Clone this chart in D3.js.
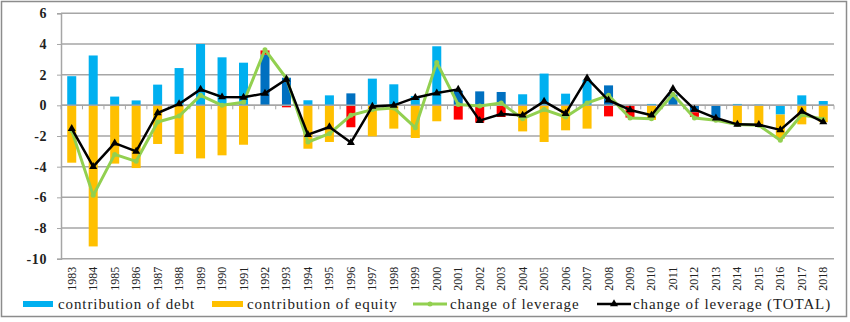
<!DOCTYPE html>
<html>
<head>
<meta charset="utf-8">
<script src="https://cdn.jsdelivr.net/npm/d3@7"></script>
<style>
html,body{margin:0;padding:0;background:#fff;}
svg{display:block;}
</style>
</head>
<body>
<svg id="chart" width="850" height="322"></svg>
<script>
const years = d3.range(1983, 2019).map(String);
const yTicks = [6, 4, 2, 0, -2, -4, -6, -8, -10];

// contribution of debt (light blue)
const debtA = [1.9,3.25,0.57,0.32,1.35,2.43,4.0,3.13,2.78,0,0,0.33,0.65,0,1.74,1.37,0.61,3.85,0,0,0,0.72,2.07,0.76,1.65,0,0,0.09,0,0,0,0.09,0.05,-0.6,0.65,0.28];
// contribution of equity (orange)
const equityA = [-3.74,-9.2,-3.8,-4.09,-2.52,-3.17,-3.46,-3.26,-2.57,0,0,-2.83,-2.39,0,-2.02,-1.52,-2.13,-1.04,0,0,0,-1.7,-2.39,-1.63,-1.52,0,0,-0.95,0,0,0,-1.24,-1.26,-1.57,-1.24,-1.1];
// contribution of debt, highlighted years (dark blue)
const debtB = [0,0,0,0,0,0,0,0,0,3.3,1.8,0,0,0.78,0,0,0,0,0.95,0.91,0.87,0,0,0,0,1.3,0,0,0.7,-0.45,-0.85,0,0,0,0,0];
// contribution of equity, highlighted years (red)
const equityB = [0,0,0,0,0,0,0,0,0,0.28,-0.13,0,0,-1.43,0,0,0,0,-0.93,-1.13,-0.76,0,0,0,0,-0.72,-0.8,0,0,-0.3,-0.12,0,0,0,0,0];
// change of leverage (green)
const changeLev = [-1.65,-5.87,-3.2,-3.65,-1.09,-0.7,0.65,0.0,0.2,3.63,1.75,-2.39,-1.85,-0.65,-0.28,-0.17,-1.46,2.8,0.05,-0.05,0.15,-0.87,-0.28,-0.76,0.15,0.65,-0.83,-0.87,0.72,-0.83,-0.98,-1.25,-1.3,-2.28,-0.62,-0.9];
// change of leverage (TOTAL) (black)
const changeLevTotal = [-1.52,-4.0,-2.46,-3.0,-0.5,0.09,1.04,0.54,0.52,0.78,1.7,-1.91,-1.41,-2.43,-0.07,0.0,0.5,0.8,1.04,-1.0,-0.57,-0.65,0.26,-0.54,1.78,0.33,-0.3,-0.65,1.09,-0.26,-0.83,-1.24,-1.26,-1.6,-0.39,-1.09];

const barKeys = ["debtA","equityA","debtB","equityB"];
const barColors = {debtA:"#00B0F0", equityA:"#FFC000", debtB:"#0070C0", equityB:"#FF0000"};
const table = years.map((yr,i)=>({year:yr, debtA:debtA[i], equityA:equityA[i], debtB:debtB[i], equityB:equityB[i]}));

(function(){
const FONT = '"Liberation Serif","Times New Roman",serif';
const svg = d3.select("#chart");
const pL = 61, pR = 834, pT = 13.3, pB = 258.7;

// outer border
svg.append("rect").attr("x",1.5).attr("y",1.5).attr("width",845).attr("height",315)
  .attr("fill","#fff").attr("stroke","#8c8c8c").attr("stroke-width",1.5);

const x = d3.scaleBand().domain(years).range([pL, pR]).paddingInner(0.58).paddingOuter(0.29);
const y = d3.scaleLinear().domain([-10, 6]).range([pB, pT]);

// gridlines
svg.append("g").selectAll("line").data(yTicks).join("line")
  .attr("x1", pL).attr("x2", pR)
  .attr("y1", d=>y(d)).attr("y2", d=>y(d))
  .attr("stroke","#a6a6a6").attr("stroke-width",1.5);

// y axis
const yAxis = d3.axisLeft(y).tickValues(yTicks).tickSize(4).tickPadding(10).tickFormat(d=>String(d));
const gy = svg.append("g").attr("transform",`translate(${pL},0)`).call(yAxis);
gy.select(".domain").attr("stroke","#a6a6a6").attr("stroke-width",1.5);
gy.selectAll(".tick line").attr("stroke","#a6a6a6");
gy.selectAll("text").style("font-family",FONT).style("font-size","14px")
  .style("font-weight","bold").attr("fill","#222").style("letter-spacing","0.6px");

// bars (stacked, diverging)
const stack = d3.stack().keys(barKeys).offset(d3.stackOffsetDiverging);
const series = stack(table);
svg.append("g").selectAll("g").data(series).join("g")
  .attr("fill", s=>barColors[s.key])
  .selectAll("rect").data(s=>s).join("rect")
  .attr("x", d=>x(d.data.year))
  .attr("width", x.bandwidth())
  .attr("y", d=>y(Math.max(d[0],d[1])))
  .attr("height", d=>Math.abs(y(d[0])-y(d[1])));

// zero axis with ticks at category boundaries
const step = x.step();
svg.append("line").attr("x1",pL).attr("x2",pR).attr("y1",y(0)).attr("y2",y(0))
  .attr("stroke","#a6a6a6").attr("stroke-width",1.5);
svg.append("g").selectAll("line").data(d3.range(years.length+1)).join("line")
  .attr("x1", i=>pL + i*step).attr("x2", i=>pL + i*step)
  .attr("y1", y(0)).attr("y2", y(0)+4)
  .attr("stroke","#a6a6a6").attr("stroke-width",1);

// year labels at bottom
const cx = d=>x(d)+x.bandwidth()/2;
svg.append("g").selectAll("text").data(years).join("text")
  .attr("transform", d=>`translate(${cx(d)+4},${pB+8}) rotate(-90)`)
  .attr("text-anchor","end")
  .style("font-family",FONT).style("font-size","12px").attr("fill","#222")
  .text(d=>d);

// lines
const line = d3.line().x((d,i)=>cx(years[i])).y(d=>y(d));
svg.append("path").datum(changeLev).attr("d", line)
  .attr("fill","none").attr("stroke","#92D050").attr("stroke-width",3).attr("stroke-linejoin","round");
svg.append("g").selectAll("circle").data(changeLev).join("circle")
  .attr("cx",(d,i)=>cx(years[i])).attr("cy",d=>y(d)).attr("r",2.5).attr("fill","#92D050");

svg.append("path").datum(changeLevTotal).attr("d", line)
  .attr("fill","none").attr("stroke","#000").attr("stroke-width",2.5).attr("stroke-linejoin","round");
const tri = d3.symbol().type(d3.symbolTriangle).size(28);
svg.append("g").selectAll("path").data(changeLevTotal).join("path")
  .attr("transform",(d,i)=>`translate(${cx(years[i])},${y(d)})`)
  .attr("d", tri).attr("fill","#000");

// legend
const legY = 304;
const lg = svg.append("g");
const items = [
  {type:"bar", color:barColors.debtA, x1:23, x2:53, tx:58, label:"contribution of debt"},
  {type:"bar", color:barColors.equityA, x1:212, x2:243, tx:247, label:"contribution of equity"},
  {type:"line", color:"#92D050", x1:413, x2:447, tx:450, label:"change of leverage", marker:"circle"},
  {type:"line", color:"#000", x1:597, x2:631, tx:633, label:"change of leverage (TOTAL)", marker:"tri"}
];
items.forEach(it=>{
  if(it.type==="bar"){
    lg.append("rect").attr("x",it.x1).attr("y",legY-3).attr("width",it.x2-it.x1).attr("height",6).attr("fill",it.color);
  } else {
    lg.append("line").attr("x1",it.x1).attr("x2",it.x2).attr("y1",legY).attr("y2",legY)
      .attr("stroke",it.color).attr("stroke-width",it.marker==="tri"?2.5:3);
    const mx=(it.x1+it.x2)/2;
    if(it.marker==="circle") lg.append("circle").attr("cx",mx).attr("cy",legY).attr("r",2.5).attr("fill",it.color);
    else lg.append("path").attr("transform",`translate(${mx},${legY})`).attr("d",tri).attr("fill",it.color);
  }
  lg.append("text").attr("x",it.tx).attr("y",legY+4.5)
    .style("font-family",FONT).style("font-size","15px")
    .style("letter-spacing","0.9px").attr("fill","#222").text(it.label);
});
})();
</script>
</body>
</html>
